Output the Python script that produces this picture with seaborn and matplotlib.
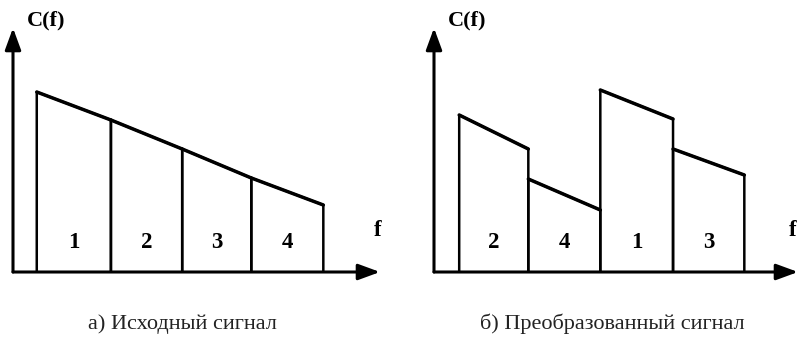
import matplotlib
matplotlib.use("Agg")
import matplotlib.pyplot as plt
import seaborn as sns
import pandas as pd

sns.set_theme(style="white")
plt.rcParams['font.family'] = ['Liberation Serif', 'DejaVu Serif']

# ---- data (frequency in band-width units, amplitude in arbitrary units) ----
orig_bands = ['1', '2', '3', '4']
orig_edges = [0.33, 1.36, 2.35, 3.31, 4.31]
orig_start = [180, 152, 123, 94]
orig_end = [152, 123, 94, 67]

trans_bands = ['2', '4', '1', '3']
trans_edges = [0.35, 1.31, 2.31, 3.32, 4.31]
trans_start = [157, 93, 182, 123]
trans_end = [123, 62, 153, 97]

captions = ['а) Исходный сигнал', 'б) Преобразованный сигнал']
y_label = 'C(f)'
x_label = 'f'

W, H = 806, 348
fig = plt.figure(figsize=(W / 100, H / 100), dpi=100)
PX = 72.0  # pixels per band unit


def make_axes(x0_px, y0_px, xtip_px, ytip_px):
    left = x0_px / W
    bottom = 1 - y0_px / H
    width = (xtip_px - x0_px) / W
    height = (y0_px - ytip_px) / H
    ax = fig.add_axes([left, bottom, width, height])
    ax.set_xlim(0, (xtip_px - x0_px) / PX)
    ax.set_ylim(0, y0_px - ytip_px)
    ax.axis('off')
    return ax


def draw_panel(ax, bands, edges, starts, ends, flabel_x):
    xmax = ax.get_xlim()[1]
    ymax = ax.get_ylim()[1]
    arrow = dict(arrowstyle='-|>,head_length=0.6,head_width=0.22',
                 lw=2.2, color='black', mutation_scale=22, shrinkA=0, shrinkB=0)
    ax.annotate('', xy=(xmax, 0), xytext=(0, 0), arrowprops=arrow,
                annotation_clip=False)
    ax.annotate('', xy=(0, ymax), xytext=(0, 0), arrowprops=arrow,
                annotation_clip=False)
    for i, lab in enumerate(bands):
        x0, x1 = edges[i], edges[i + 1]
        sides = pd.DataFrame({'f': [x0, x0, x1, x1],
                              'C': [0, starts[i], ends[i], 0]})
        sns.lineplot(data=sides, x='f', y='C', sort=False, estimator=None,
                     color='black', lw=1.8, ax=ax)
        top = pd.DataFrame({'f': [x0, x1], 'C': [starts[i], ends[i]]})
        sns.lineplot(data=top, x='f', y='C', sort=False, estimator=None,
                     color='black', lw=2.5, ax=ax)
        ax.text((x0 + x1) / 2, 30, lab, ha='center', va='center',
                fontsize=16.5, fontweight='bold', color='black')
    ax.set_xlim(0, xmax)
    ax.set_ylim(0, ymax)
    ax.axis('off')
    ax.text(0.46, ymax + 8, y_label, ha='center', va='center',
            fontsize=16, fontweight='bold', color='black', clip_on=False)
    ax.text(flabel_x, 42, x_label, ha='center', va='center',
            fontsize=16.5, fontweight='bold', color='black', clip_on=False)


ax1 = make_axes(13, 272, 380, 28)
draw_panel(ax1, orig_bands, orig_edges, orig_start, orig_end, 5.07)
ax2 = make_axes(434, 272, 798, 28)
draw_panel(ax2, trans_bands, trans_edges, trans_start, trans_end, 4.98)

fig.text(182 / W, 1 - 324 / H, captions[0], ha='center', va='center',
         fontsize=16, color='#222222')
fig.text(612 / W, 1 - 324 / H, captions[1], ha='center', va='center',
         fontsize=16, color='#222222')

fig.savefig('out.png', dpi=100, facecolor='white')
